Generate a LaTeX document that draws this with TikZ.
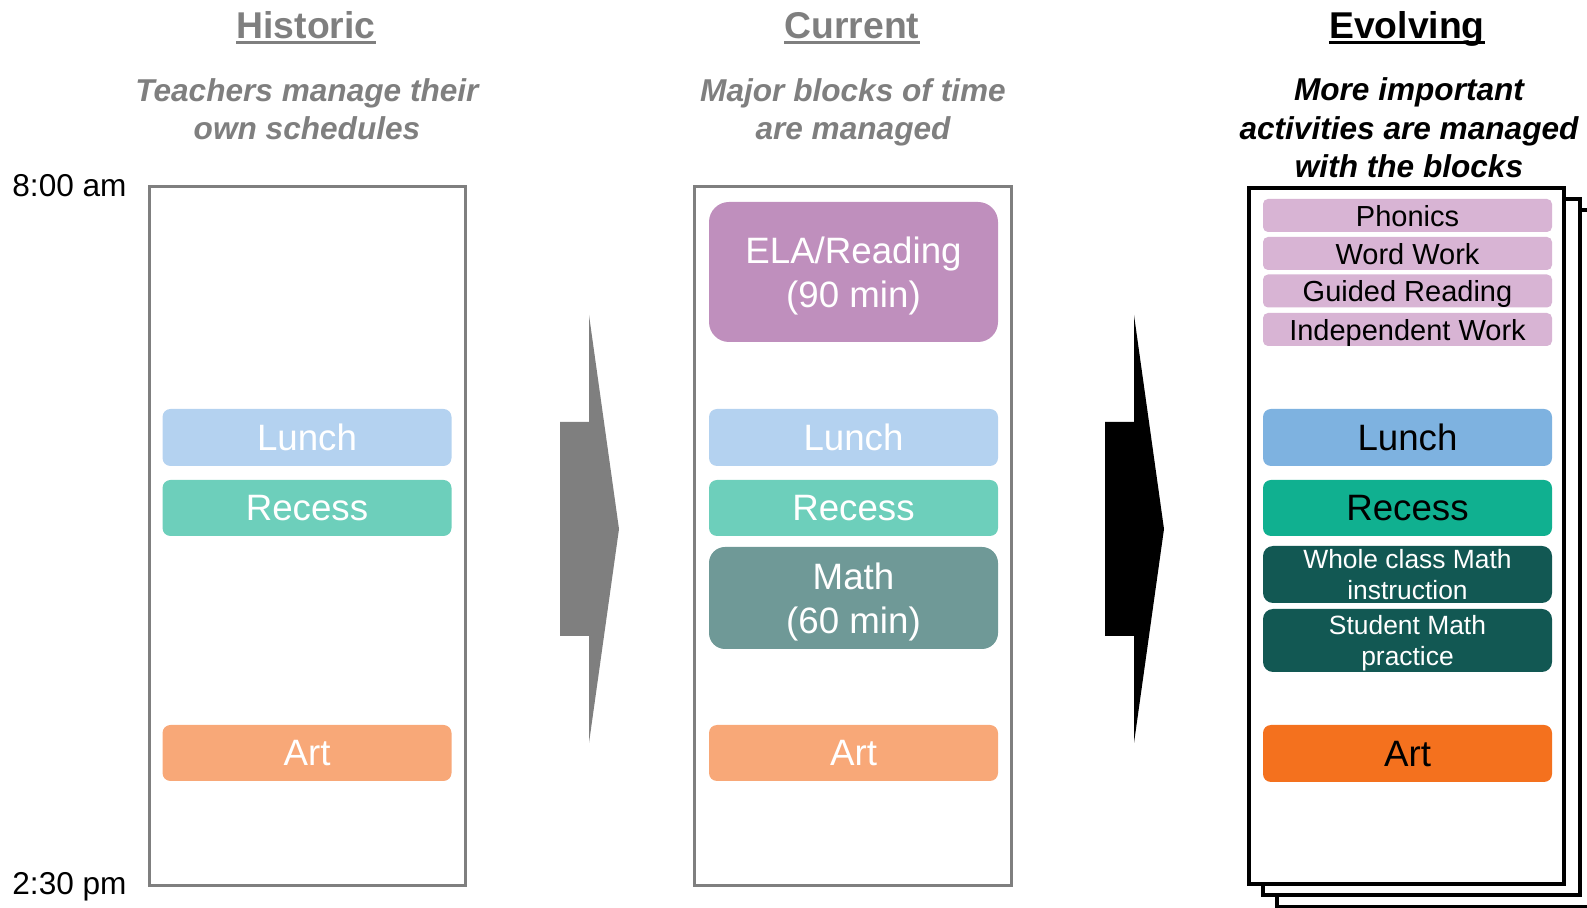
\documentclass[tikz,border=0pt]{standalone}
\usepackage{fontspec}
\setmainfont{Liberation Sans}
\definecolor{txtgray}{HTML}{7F7F7F}
\definecolor{framegray}{HTML}{7F7F7F}
\definecolor{hlunch}{HTML}{B4D2F0}
\definecolor{hrecess}{HTML}{6DCFBB}
\definecolor{hart}{HTML}{F8A878}
\definecolor{cela}{HTML}{BF8FBD}
\definecolor{cmath}{HTML}{6F9997}
\definecolor{ephon}{HTML}{D8B4D4}
\definecolor{elunch}{HTML}{7EB2E0}
\definecolor{erecess}{HTML}{10B090}
\definecolor{emath}{HTML}{125853}
\definecolor{eart}{HTML}{F4711E}
\begin{document}
\begin{tikzpicture}[x=0.5pt,y=-0.5pt,
  titletext/.style={inner sep=0pt, anchor=base, font=\fontsize{18.65pt}{22pt}\selectfont\bfseries},
  subtext/.style={inner sep=0pt, anchor=base, align=center, font=\fontsize{15.8pt}{19.25pt}\selectfont\bfseries\itshape},
  timetext/.style={inner sep=0pt, anchor=base west, font=\fontsize{15.8pt}{19pt}\selectfont},
  frame/.style={draw=framegray, line width=1.5pt},
  page/.style={draw=black, fill=white, line width=1.75pt},
  blk/.style={inner sep=0pt, align=center, minimum width=144.5pt, text depth=-2pt, font=\fontsize{18.35pt}{22.2pt}\selectfont, rounded corners=4pt},
  sblk/.style={inner sep=0pt, align=center, minimum width=144.5pt, text depth=-1pt, font=\fontsize{14.5pt}{17pt}\selectfont, rounded corners=2.5pt, fill=ephon, text=black, minimum height=16.5pt},
  mblk/.style={inner sep=0pt, align=center, minimum width=144.5pt, text depth=-1pt, font=\fontsize{13.2pt}{15.9pt}\selectfont, rounded corners=5pt, fill=emath, text=white},
  uline/.style={line width=1.35pt}
]
\useasboundingbox (0,0) rectangle (1587,908);

% ---------- titles ----------
\node[titletext, text=txtgray] (t1) at (306,39) {Historic};
\draw[uline, txtgray] ([yshift=-1.65pt]t1.base west) -- ([yshift=-1.65pt]t1.base east);
\node[titletext, text=txtgray] (t2) at (852,39) {Current};
\draw[uline, txtgray] ([yshift=-1.65pt]t2.base west) -- ([yshift=-1.65pt]t2.base east);
\node[titletext, text=black] (t3) at (1407,39) {Evolving};
\draw[uline, black] ([yshift=-1.65pt]t3.base west) -- ([yshift=-1.65pt]t3.base east);

% base anchor = baseline of the last line
\node[subtext, text=txtgray] (s1) at (307,140) {Teachers manage their\\own schedules};
\node[subtext, text=txtgray] (s2) at (853,140) {Major blocks of time\\are managed};
\node[subtext, text=black] (s3) at (1409,178) {More important\\activities are managed\\with the blocks};

% ---------- time labels ----------
\node[timetext] (tstart) at (12,197) {8:00 am};
\node[timetext] (tend) at (12,895) {2:30 pm};

% ---------- frames ----------
\draw[frame] (149,187) rectangle (465,886);
\draw[frame] (694,187) rectangle (1011,886);
\draw[page] (1277,210) rectangle (1640,907);
\draw[page] (1263,199) rectangle (1580,895);
\draw[page] (1249,188) rectangle (1564,884);

% ---------- arrows ----------
\fill[framegray] (560,422) -- (589,422) -- (589,315) -- (619,529) -- (589,743) -- (589,636) -- (560,636) -- cycle;
\fill[black] (1105,422) -- (1134,422) -- (1134,315) -- (1164,529) -- (1134,743) -- (1134,636) -- (1105,636) -- cycle;

% ---------- historic ----------
\node[blk, fill=hlunch, text=white, minimum height=28.5pt] (hl) at (307,437.5) {Lunch};
\node[blk, fill=hrecess, text=white, minimum height=28pt] (hr) at (307,508) {Recess};
\node[blk, fill=hart, text=white, minimum height=28pt] (ha) at (307,753) {Art};

% ---------- current ----------
\node[blk, fill=cela, text=white, minimum height=70pt, rounded corners=10pt] (ce) at (853.5,272) {ELA/Reading\\(90 min)};
\node[blk, fill=hlunch, text=white, minimum height=28.5pt] (cl) at (853.5,437.5) {Lunch};
\node[blk, fill=hrecess, text=white, minimum height=28pt] (cr) at (853.5,508) {Recess};
\node[blk, fill=cmath, text=white, minimum height=51pt, rounded corners=8pt] (cm) at (853.5,598) {Math\\(60 min)};
\node[blk, fill=hart, text=white, minimum height=28pt] (ca) at (853.5,753) {Art};

% ---------- evolving ----------
\node[sblk] (ep) at (1407.5,215.5) {Phonics};
\node[sblk] (ew) at (1407.5,253.5) {Word Work};
\node[sblk] (eg) at (1407.5,291) {Guided Reading};
\node[sblk] (ei) at (1407.5,329.5) {Independent Work};
\node[blk, fill=elunch, text=black, minimum height=28.5pt] (el) at (1407.5,437.5) {Lunch};
\node[blk, fill=erecess, text=black, minimum height=28pt] (er) at (1407.5,508) {Recess};
\node[mblk, minimum height=28.5pt] (ew1) at (1407.5,574.5) {Whole class Math\\instruction};
\node[mblk, minimum height=31.5pt] (es1) at (1407.5,640.5) {Student Math\\practice};
\node[blk, fill=eart, text=black, minimum height=28.5pt] (ea) at (1407.5,753.5) {Art};
\end{tikzpicture}
\end{document}
